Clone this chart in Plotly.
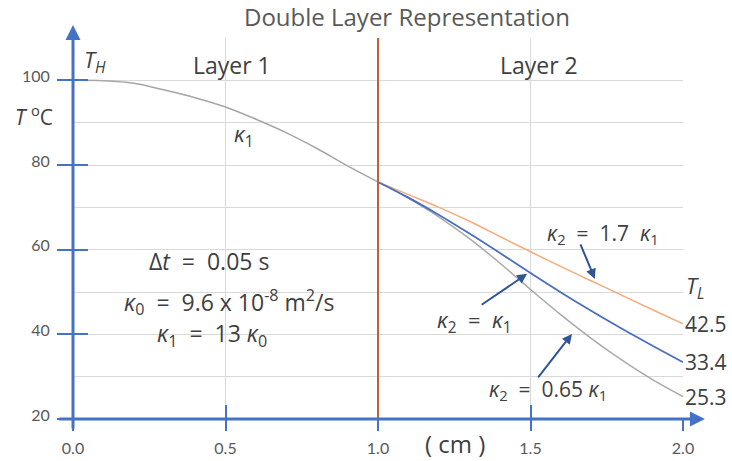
import plotly.graph_objects as go

# ---- data ----
X_LAYER1 = [0.0, 0.1, 0.2, 0.3, 0.4, 0.5, 0.6, 0.7, 0.8, 0.9, 1.0]
T_LAYER1 = [100.0, 99.9, 99.3, 97.7, 95.9, 93.7, 90.8, 87.6, 83.9, 79.8, 76.0]

X_LAYER2 = [1.0, 1.1, 1.2, 1.3, 1.4, 1.5, 1.6, 1.7, 1.8, 1.9, 2.0]
T_K17 = [76.0, 73.0, 70.0, 66.7, 63.1, 59.5, 56.0, 52.6, 49.2, 45.8, 42.5]
T_K10 = [76.0, 72.3, 68.2, 63.8, 59.2, 54.5, 49.9, 45.5, 41.3, 37.3, 33.4]
T_K065 = [76.0, 72.1, 67.7, 62.6, 56.8, 50.6, 44.6, 39.0, 33.9, 29.3, 25.3]

X_TICKS = [0.0, 0.5, 1.0, 1.5, 2.0]
Y_TICKS = [20, 40, 60, 80, 100]
X_RANGE = [0.0, 2.0]
Y_RANGE = [20, 110]
INTERFACE_X = 1.0

FONT = "Open Sans"
TICKFONT = "Lato"
TXT = "#404040"
AX = "#4472C4"
ARR = "#2F5597"
NB = "\u00a0"
EQ = f" {NB}={NB} "

fig = go.Figure()
fig.add_trace(go.Scatter(x=X_LAYER1, y=T_LAYER1, mode="lines", line=dict(color="#A6A6A6", width=1.5, shape="spline"),
                         xaxis="x2", yaxis="y2"))
fig.add_trace(go.Scatter(x=X_LAYER2, y=T_K065, mode="lines", line=dict(color="#A9A9A9", width=1.5, shape="spline")))
fig.add_trace(go.Scatter(x=X_LAYER2, y=T_K17, mode="lines", line=dict(color="#F3AC7A", width=1.5, shape="spline")))
fig.add_trace(go.Scatter(x=X_LAYER2, y=T_K10, mode="lines", line=dict(color="#4A6EC0", width=1.8, shape="spline")))

fig.add_shape(type="line", xref="x", yref="paper", x0=INTERFACE_X, x1=INTERFACE_X, y0=0, y1=1,
              line=dict(color="#C0603A", width=2))

ann = []
def txt(text, x, y, size=22, xref="x", yref="y", xanchor="center", **kw):
    ann.append(dict(text=text, x=x, y=y, xref=xref, yref=yref, showarrow=False,
                    xanchor=xanchor, yanchor="middle",
                    font=dict(family=FONT, size=size, color=TXT), **kw))

def arrow(x, y, ax, ay):
    ann.append(dict(text="", x=x, y=y, xref="x", yref="y", ax=ax, ay=ay, showarrow=True,
                    arrowhead=2, arrowsize=1, arrowwidth=2, arrowcolor=ARR))

K = "<i>κ</i>"
txt("<i>T<sub>H</sub></i>", 0.072, 104.5)
txt("Layer 1", 0.52, 103.6, size=23)
txt("Layer 2", 1.528, 103.6, size=23)
txt(f"{K}<sub>1</sub>", 0.56, 87.2)
txt(f"<i>T</i> <sup>o</sup>C", -0.064, 91.7, size=21, xref="paper")
txt(f"Δ<i>t</i>{EQ}0.05 s", 0.446, 57.4, size=23)
txt(f"{K}<sub>0</sub>{EQ}9.6 x 10<sup>-8</sup> m<sup>2</sup>/s", 0.511, 47.7, size=23)
txt(f"{K}<sub>1</sub>{EQ}13 {K}<sub>0</sub>", 0.456, 39.9, size=23)
txt(f"{K}<sub>2</sub>{EQ}1.7 {NB}{K}<sub>1</sub>", 1.738, 63.6, size=21)
txt(f"{K}<sub>2</sub>{EQ}{K}<sub>1</sub>", 1.315, 43.2, size=22)
txt(f"{K}<sub>2</sub>{EQ}0.65 {K}<sub>1</sub>", 1.557, 26.9, size=21)
txt("<i>T<sub>L</sub></i>", 1.0197, 51.2, xref="paper")
for series in (T_K17, T_K10, T_K065):
    txt(f"{series[-1]:.1f}", X_LAYER2[-1], series[-1], size=21, xanchor="left")
txt("( cm )", 1.252, -0.063, size=24, xref="x", yref="paper")

arrow(1.711, 53.1, -15, -36)
arrow(1.489, 54.3, -47, 32)
arrow(1.636, 40.1, -35, 45)

# axis lines with arrow heads
ann.append(dict(text="", x=0, y=1.034, xref="paper", yref="paper", ax=0, ay=405, showarrow=True,
                arrowhead=2, arrowsize=1, arrowwidth=3, arrowcolor=AX))
ann.append(dict(text="", x=1.036, y=0, xref="paper", yref="paper", ax=-647, ay=0, showarrow=True,
                arrowhead=2, arrowsize=1, arrowwidth=3, arrowcolor=AX))

tickfont = dict(family=TICKFONT, size=16, color="#595959")
fig.update_layout(
    width=732, height=461,
    margin=dict(l=73, r=49, t=38, b=42, autoexpand=False),
    paper_bgcolor="white", plot_bgcolor="white",
    showlegend=False,
    title=dict(text="Double Layer Representation", x=0.556, xanchor="center", y=0.961, yanchor="middle",
               font=dict(family=FONT, size=24, color="#595959")),
    xaxis=dict(range=X_RANGE, tickvals=X_TICKS, tickformat=".1f", showgrid=True, gridcolor="#D9D9D9",
               gridwidth=1, zeroline=False, showline=False, ticks="outside", ticklen=11, tickwidth=2,
               tickcolor=AX, tickfont=tickfont, ticklabelstandoff=4, automargin=False),
    yaxis=dict(range=Y_RANGE, tickvals=Y_TICKS, showgrid=True, gridcolor="#D9D9D9", gridwidth=1,
               zeroline=False, showline=False, ticks="outside", ticklen=15, tickwidth=2, tickcolor=AX,
               tickfont=tickfont, ticklabelshift=-4, ticklabelstandoff=4, automargin=False,
               minor=dict(dtick=10, tick0=0, showgrid=True, gridcolor="#D9D9D9", gridwidth=1, ticks="")),
    xaxis2=dict(range=X_RANGE, tickvals=X_TICKS, overlaying="x", anchor="y2", showgrid=False, zeroline=False,
                showline=False, ticks="inside", ticklen=14, tickwidth=2, tickcolor=AX, showticklabels=False,
                automargin=False),
    yaxis2=dict(range=Y_RANGE, tickvals=Y_TICKS, overlaying="y", anchor="x2", showgrid=False, zeroline=False,
                showline=False, ticks="inside", ticklen=15, tickwidth=2, tickcolor=AX, showticklabels=False,
                automargin=False),
    annotations=ann,
)

fig.write_html("out.html", config={"displayModeBar": False},
               post_script="document.body.style.margin='0';document.body.style.overflow='hidden';")
